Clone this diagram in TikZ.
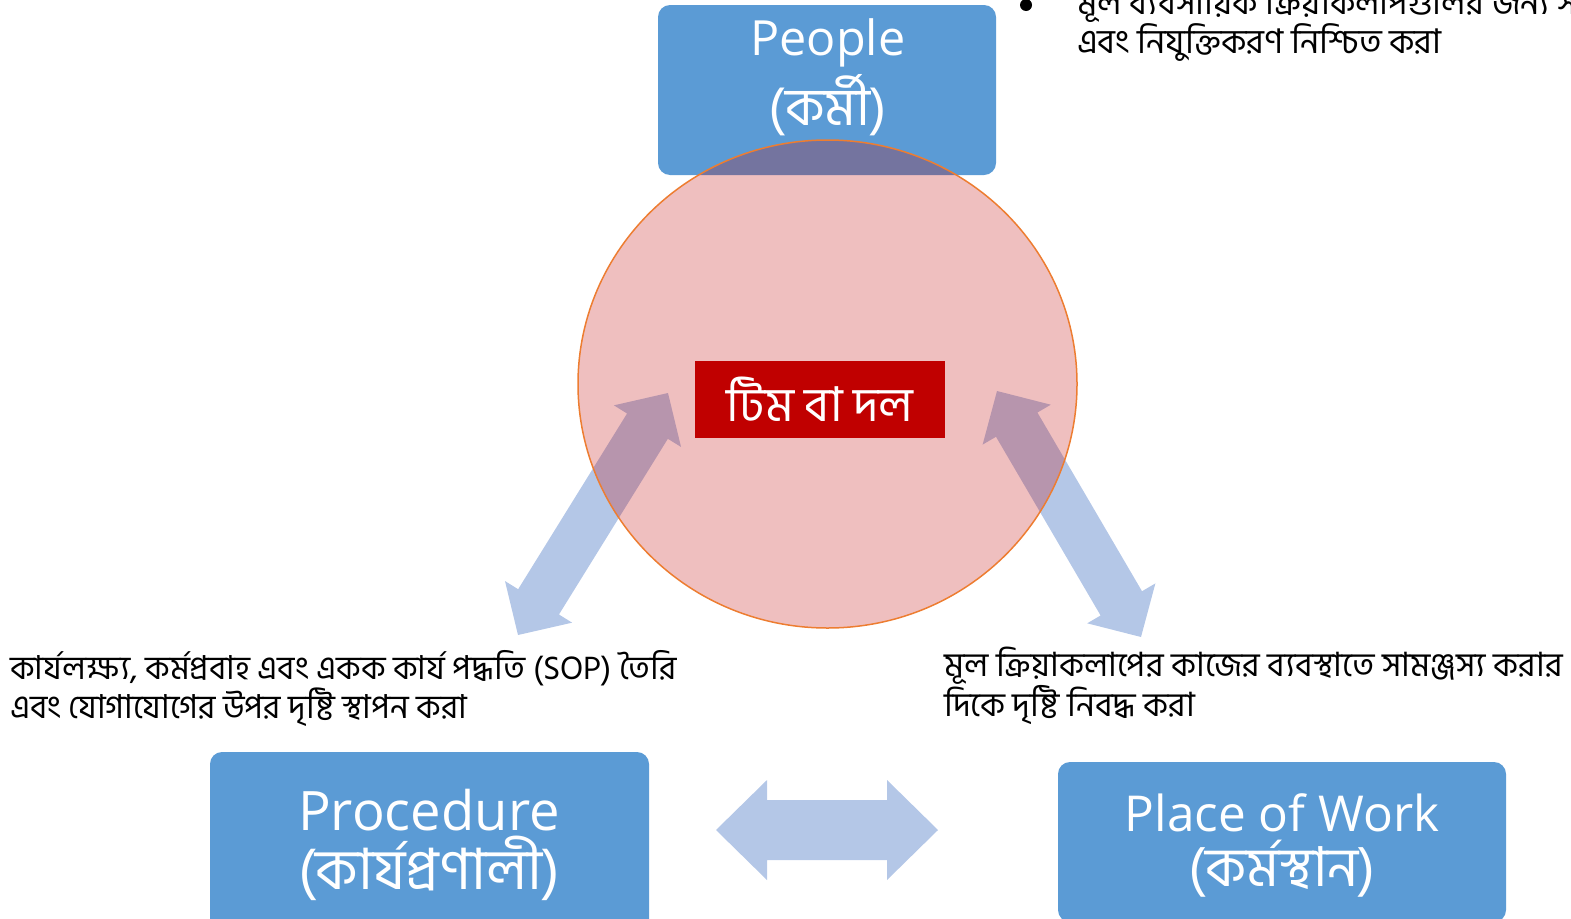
\documentclass[tikz,border=0pt]{standalone}
\usepackage{fontspec}
\setmainfont[Script=Bengali]{Hind Siliguri}
\newfontfamily\latinfont{Open Sans}
\usetikzlibrary{shapes.geometric,calc}
\definecolor{boxblue}{HTML}{5B9BD5}
\definecolor{arrowblue}{HTML}{B4C7E7}
\definecolor{teamred}{HTML}{C00000}
\definecolor{ringorange}{HTML}{ED7D31}
% fat double arrow: tips #1 and #2, head length #3, half head #4, half shaft #5
\newcommand{\blockarrow}[5]{%
  \fill[arrowblue] (#1)
    -- ($($(#1)!#3!(#2)$)!#4!90:(#2)$) -- ($($(#1)!#3!(#2)$)!#5!90:(#2)$)
    -- ($($(#2)!#3!(#1)$)!#5!-90:(#1)$) -- ($($(#2)!#3!(#1)$)!#4!-90:(#1)$)
    -- (#2)
    -- ($($(#2)!#3!(#1)$)!#4!90:(#1)$) -- ($($(#2)!#3!(#1)$)!#5!90:(#1)$)
    -- ($($(#1)!#3!(#2)$)!#5!-90:(#2)$) -- ($($(#1)!#3!(#2)$)!#4!-90:(#2)$)
    -- cycle;}
\newcommand{\en}[2]{{\latinfont\fontsize{#1}{#1}\selectfont #2}}

\begin{document}
\begin{tikzpicture}[x=1pt, y=-1pt, every node/.style={inner sep=0pt},
  unit/.style={fill=boxblue, rounded corners=12pt},
  unitlabel/.style={text=white, align=center, anchor=base},
  note/.style={align=left, anchor=base west}]
  \useasboundingbox (0,0) rectangle (1571,918);

  % three P boxes
  \node[unit, minimum width=338pt, minimum height=170pt] (people) at (827,90) {};
  \node[unit, minimum width=439pt, minimum height=183pt] (proc) at (429.5,843.5) {};
  \node[unit, minimum width=448pt, minimum height=160pt] (place) at (1282,842) {};
  \node[unitlabel, font=\fontsize{53}{70}\selectfont] (peoplelabel) at (828,125) {\en{48.5}{People}\\(কর্মী)};
  \node[unitlabel, font=\fontsize{57}{59}\selectfont] (proclabel) at (429,889) {\en{54.4}{Procedure}\\(কার্যপ্রণালী)};
  \node[unitlabel, font=\fontsize{55}{55}\selectfont] (placelabel) at (1282,886) {\en{49.5}{Place of Work}\\(কর্মস্থান)};

  % arrows
  \coordinate (lo) at (518,635); \coordinate (li) at (668,393);
  \coordinate (ri) at (997,391); \coordinate (ro) at (1141,637);
  \coordinate (bl) at (716,830); \coordinate (br) at (938,830);
  \blockarrow{lo}{li}{39pt}{39.5pt}{24pt}
  \blockarrow{ri}{ro}{39pt}{39.5pt}{24pt}
  \blockarrow{bl}{br}{51pt}{50pt}{30pt}

  % team circle
  \node[ellipse, minimum width=499pt, minimum height=488pt, fill=teamred, fill opacity=0.25,
    draw=ringorange, line width=1.5pt] (hub) at (827.5,384) {};
  \node[fill=teamred, text=white, minimum width=250pt, minimum height=77pt,
    font=\fontsize{48}{48}\selectfont] (team) at (820,399.5) {টিম বা দল};

  % notes
  \fill (1026,5) circle (6);
  \node[note, font=\fontsize{34}{37}\selectfont] (peoplenote) at (1077,53) {মূল ব্যবসায়িক ক্রিয়াকলাপগুলির জন্য স\\এবং নিযুক্তিকরণ নিশ্চিত করা};
  \node[note, font=\fontsize{33}{37}\selectfont] (procnote) at (10,718) {কার্যলক্ষ্য, কর্মপ্রবাহ এবং একক কার্য পদ্ধতি (SOP) তৈরি\\এবং যোগাযোগের উপর দৃষ্টি স্থাপন করা};
  \node[note, font=\fontsize{33.5}{37}\selectfont] (placenote) at (944,716) {মূল ক্রিয়াকলাপের কাজের ব্যবস্থাতে সামঞ্জস্য করার\\দিকে দৃষ্টি নিবদ্ধ করা};
\end{tikzpicture}
\end{document}
